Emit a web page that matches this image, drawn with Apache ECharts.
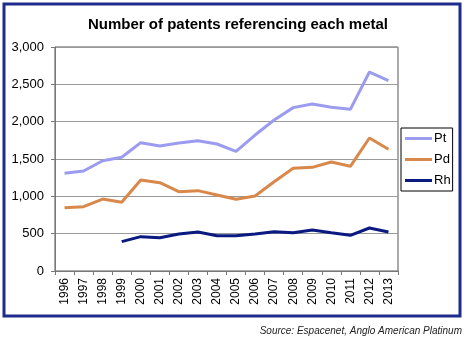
<!DOCTYPE html>
<html><head><meta charset="utf-8">
<script src="https://cdn.jsdelivr.net/npm/echarts@6/dist/echarts.min.js"></script>
<style>html,body{margin:0;padding:0;background:#fff}#c{width:466px;height:342px}</style>
</head><body><div id="c"></div>
<script>
var years = ['1996','1997','1998','1999','2000','2001','2002','2003','2004','2005','2006','2007','2008','2009','2010','2011','2012','2013'];
var pt = [1308,1339,1477,1523,1719,1674,1715,1745,1701,1603,1821,2022,2188,2237,2192,2165,2665,2549];
var pd = [848,861,964,920,1219,1183,1062,1076,1018,960,1004,1196,1375,1388,1460,1402,1781,1630];
var rh = [null,null,null,393,460,446,496,522,473,473,496,527,513,549,513,478,576,522];
var yTicks = [0,500,1000,1500,2000,2500,3000];

var chart = echarts.init(document.getElementById('c'));
var font = 'Arial, "Liberation Sans", sans-serif';
function ser(name, data, color) {
  return {name:name, type:'line', data:data, symbol:'none', connectNulls:false,
    lineStyle:{color:color, width:3}, itemStyle:{color:color}};
}
chart.setOption({
  animation:false,
  title:{text:'Number of patents referencing each metal', left:'center', top:12, left:233, textAlign:'center',
    textStyle:{fontFamily:font, fontSize:15, fontWeight:'bold', color:'#000'}},
  grid:{left:55, top:47, width:343, height:224, show:true, borderColor:'#555', borderWidth:1, backgroundColor:'transparent'},
  legend:{orient:'vertical', left:401, top:128, itemWidth:27, itemHeight:3, itemGap:8,
    backgroundColor:'#fff', borderColor:'#000', borderWidth:1, padding:[4,2,4,4],
    textStyle:{fontFamily:font, fontSize:13, color:'#000', padding:[0,0,0,-3]},
    icon:'rect', data:['Pt','Pd','Rh']},
  xAxis:{type:'category', data:years, boundaryGap:true,
    axisLine:{lineStyle:{color:'#777'}},
    axisTick:{show:true, length:4, lineStyle:{color:'#777'}},
    axisLabel:{rotate:90, fontFamily:font, fontSize:12, color:'#000', margin:7}},
  yAxis:{type:'value', min:0, max:3000, interval:500,
    axisLine:{show:true, lineStyle:{color:'#777'}},
    axisTick:{show:true, length:4, inside:false, lineStyle:{color:'#777'}},
    splitLine:{lineStyle:{color:'#999'}},
    axisLabel:{fontFamily:font, fontSize:13, color:'#000', margin:11,
      formatter:function(v){return yTicks.indexOf(v)>=0 ? v.toLocaleString('en-US') : '';}}},
  series:[ser('Pt',pt,'#9b9bef'), ser('Pd',pd,'#d8884a'), ser('Rh',rh,'#0a1a80')],
  graphic:[
    {type:'rect', shape:{x:4, y:4, width:456, height:312}, style:{fill:'none', stroke:'#1e2c8c', lineWidth:3}, z:-1},
    {type:'text', right:4, top:326, style:{text:'Source: Espacenet, Anglo American Platinum', font:'italic 10px Arial, "Liberation Sans", sans-serif', fill:'#222'}}
  ]
});
</script></body></html>
